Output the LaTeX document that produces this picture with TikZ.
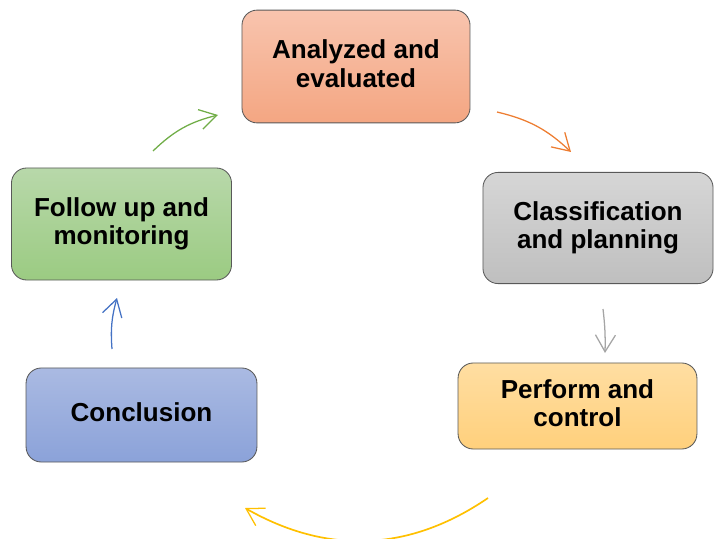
\documentclass[tikz,border=0pt]{standalone}
\usepackage{fontspec}
\setmainfont{Liberation Sans}
\usetikzlibrary{arrows.meta,positioning}

\definecolor{orangeA}{HTML}{F8C4AE}
\definecolor{orangeB}{HTML}{F4A682}
\definecolor{grayA}{HTML}{D6D6D6}
\definecolor{grayB}{HTML}{BFBFBF}
\definecolor{goldA}{HTML}{FFDEA2}
\definecolor{goldB}{HTML}{FFD07C}
\definecolor{blueA}{HTML}{AABAE2}
\definecolor{blueB}{HTML}{8BA2D9}
\definecolor{greenA}{HTML}{B8D8AA}
\definecolor{greenB}{HTML}{9BCB82}
\definecolor{arrOrange}{HTML}{ED7D31}
\definecolor{arrGray}{HTML}{A5A5A5}
\definecolor{arrGold}{HTML}{FFC000}
\definecolor{arrBlue}{HTML}{4472C4}
\definecolor{arrGreen}{HTML}{70AD47}

\begin{document}
\begin{tikzpicture}[
        x=0.025cm,
        y=-0.025cm,
        stage/.style={
          draw=black!65,
          line width=0.6pt,
          rounded corners=0.38cm,
          align=center,
          inner sep=2pt,
          text depth=0.15cm,
          font=\fontsize{18.5}{20.2}\selectfont\bfseries
          },
        flow/.style={
          line width=0.9pt,
          -{Straight Barb[length=4.2mm,width=5mm,line width=0.9pt]}
          }
        ]
        \useasboundingbox (0,0) rectangle (715,538);
        % the five stages
        \node[stage, top color=orangeA, bottom color=orangeB,
          minimum width=5.7cm, minimum height=2.82cm] (ana) at (356,66.5) {Analyzed and\\evaluated};
        \node[stage, top color=grayA, bottom color=grayB,
          minimum width=5.75cm, minimum height=2.78cm] (cls) at (598,228) {Classification\\and planning};
        \node[stage, top color=goldA, bottom color=goldB,
          minimum width=5.97cm, minimum height=2.15cm] (per) at (577.5,406) {Perform and\\control};
        \node[stage, top color=blueA, bottom color=blueB,
          minimum width=5.77cm, minimum height=2.35cm] (con) at (141.5,415) {Conclusion};
        \node[stage, top color=greenA, bottom color=greenB,
          minimum width=5.5cm, minimum height=2.8cm] (fol) at (121.5,224) {Follow up and\\monitoring};
        % arrow ends
        \coordinate (anaOut) at (497,112);
        \coordinate (clsIn) at (571,152);
        \coordinate (clsOut) at (603,309);
        \coordinate (perIn) at (605,353);
        \coordinate (perOut) at (488,498);
        \coordinate (conIn) at (245,508);
        \coordinate (conOut) at (112,349);
        \coordinate (folIn) at (117,298);
        \coordinate (folOut) at (153,151);
        \coordinate (anaIn) at (218,115);
        \draw[flow, arrOrange] (anaOut) to[bend left=15] (clsIn);
        \draw[flow, arrGray] (clsOut) to[bend left=4] (perIn);
        \draw[flow, arrGold, line width=1.2pt] (perOut) to[bend left=32] (conIn);
        \draw[flow, arrBlue] (conOut) to[bend left=10] (folIn);
        \draw[flow, arrGreen] (folOut) to[bend left=15] (anaIn);
    \end{tikzpicture}
\end{document}
